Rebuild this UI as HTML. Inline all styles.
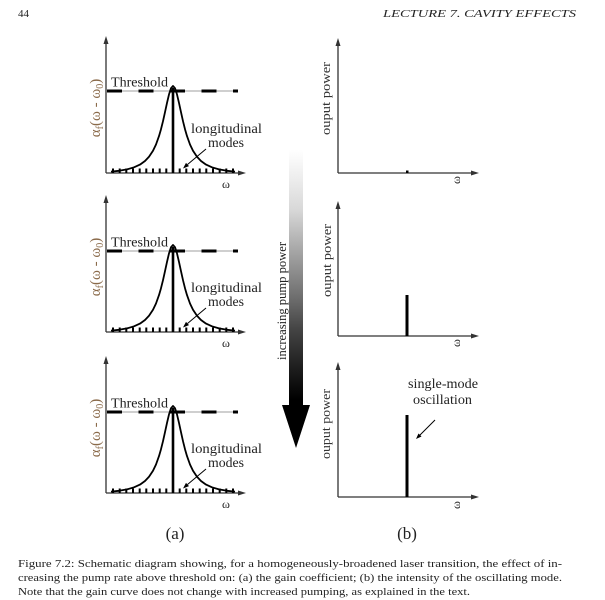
<!DOCTYPE html>
<html>
<head>
<meta charset="utf-8">
<style>
html,body{margin:0;padding:0;background:#fff;}
svg{display:block;font-family:"Liberation Serif",serif;}
</style>
</head>
<body>
<svg width="605" height="600" viewBox="0 0 605 600" xmlns="http://www.w3.org/2000/svg">
<defs>
<linearGradient id="pg" x1="0" y1="150" x2="0" y2="410" gradientUnits="userSpaceOnUse">
<stop offset="0" stop-color="#ffffff"/>
<stop offset="0.115" stop-color="#ececec"/>
<stop offset="0.23" stop-color="#d8d8d8"/>
<stop offset="0.42" stop-color="#9c9c9c"/>
<stop offset="0.58" stop-color="#6a6a6a"/>
<stop offset="0.69" stop-color="#444444"/>
<stop offset="0.81" stop-color="#252525"/>
<stop offset="0.96" stop-color="#000000"/>
</linearGradient>
</defs>
<rect width="605" height="600" fill="#fff"/>

<!-- header -->
<text x="18" y="17" font-size="11" fill="#222">44</text>
<text x="383" y="17" font-size="11" font-style="italic" fill="#222" textLength="193" lengthAdjust="spacingAndGlyphs">LECTURE 7.  CAVITY EFFECTS</text>

<!-- LEFT PANELS -->
<g>
<line x1="106" y1="173" x2="106" y2="42" stroke="#333" stroke-width="1.3"/>
<polygon points="106,36 103.5,44 108.5,44" fill="#333"/>
<line x1="106" y1="173" x2="240" y2="173" stroke="#333" stroke-width="1.3"/>
<polygon points="246,173 238,170.5 238,175.5" fill="#333"/>
<line x1="107" y1="91" x2="238" y2="91" stroke="#cfcfcf" stroke-width="2"/>
<line x1="107" y1="91" x2="238" y2="91" stroke="#000" stroke-width="3" stroke-dasharray="15 16.5"/>
<path d="M111,171.6 L119,170.8 L127,169.4 L134,167.3 L140,164.6 L145,161 L149,156.8 L153,150.8 L156,144.5 L159,136.1 L161,129.2 L163,121.2 L165,112.2 L167,102.9 L169,94.4 L171,88.2 L173,86 L175,88.2 L177,94.4 L179,102.9 L181,112.2 L183,121.2 L185,129.2 L187,136.1 L190,144.5 L193,150.8 L197,156.8 L201,161 L206,164.6 L212,167.3 L219,169.4 L227,170.8 L235,171.6" fill="none" stroke="#000" stroke-width="1.8" stroke-linejoin="round"/>
<line x1="173" y1="88" x2="173" y2="173" stroke="#000" stroke-width="2.6"/>
<path d="M166.3,168.5v4.5M159.7,168.5v4.5M153,168.5v4.5M146.3,168.5v4.5M139.7,168.5v4.5M133,168.5v4.5M126.3,168.5v4.5M119.7,168.5v4.5M113,168.5v4.5M179.7,168.5v4.5M186.3,168.5v4.5M193,168.5v4.5M199.7,168.5v4.5M206.3,168.5v4.5M213,168.5v4.5M219.7,168.5v4.5M226.3,168.5v4.5M233,168.5v4.5" stroke="#000" stroke-width="2"/>
<text x="111" y="86.5" font-size="14" fill="#222" textLength="57" lengthAdjust="spacingAndGlyphs">Threshold</text>
<text x="191" y="133" font-size="14" fill="#222" textLength="71" lengthAdjust="spacingAndGlyphs">longitudinal</text>
<text x="208" y="147" font-size="14" fill="#222" textLength="36" lengthAdjust="spacingAndGlyphs">modes</text>
<line x1="206" y1="149" x2="187.5" y2="164.5" stroke="#000" stroke-width="1"/>
<polygon points="183,168.5 189,166.1 186,162.9" fill="#000"/>
<text x="226" y="188" font-size="12" text-anchor="middle" fill="#222">ω</text>
<text transform="translate(100,108) rotate(-90)" text-anchor="middle" font-size="15" fill="#8a6a4a">α<tspan font-size="10" dy="3">f</tspan><tspan dy="-3">(ω - ω</tspan><tspan font-size="10" dy="3">0</tspan><tspan dy="-3">)</tspan></text>
</g>

<g transform="translate(0,159)">
<line x1="106" y1="173" x2="106" y2="42" stroke="#333" stroke-width="1.3"/>
<polygon points="106,36 103.5,44 108.5,44" fill="#333"/>
<line x1="106" y1="173" x2="240" y2="173" stroke="#333" stroke-width="1.3"/>
<polygon points="246,173 238,170.5 238,175.5" fill="#333"/>
<line x1="107" y1="92" x2="238" y2="92" stroke="#cfcfcf" stroke-width="2"/>
<line x1="107" y1="92" x2="238" y2="92" stroke="#000" stroke-width="3" stroke-dasharray="15 16.5"/>
<path d="M111,171.6 L119,170.8 L127,169.4 L134,167.3 L140,164.6 L145,161 L149,156.8 L153,150.8 L156,144.5 L159,136.1 L161,129.2 L163,121.2 L165,112.2 L167,102.9 L169,94.4 L171,88.2 L173,86 L175,88.2 L177,94.4 L179,102.9 L181,112.2 L183,121.2 L185,129.2 L187,136.1 L190,144.5 L193,150.8 L197,156.8 L201,161 L206,164.6 L212,167.3 L219,169.4 L227,170.8 L235,171.6" fill="none" stroke="#000" stroke-width="1.8" stroke-linejoin="round"/>
<line x1="173" y1="88" x2="173" y2="173" stroke="#000" stroke-width="2.6"/>
<path d="M166.3,168.5v4.5M159.7,168.5v4.5M153,168.5v4.5M146.3,168.5v4.5M139.7,168.5v4.5M133,168.5v4.5M126.3,168.5v4.5M119.7,168.5v4.5M113,168.5v4.5M179.7,168.5v4.5M186.3,168.5v4.5M193,168.5v4.5M199.7,168.5v4.5M206.3,168.5v4.5M213,168.5v4.5M219.7,168.5v4.5M226.3,168.5v4.5M233,168.5v4.5" stroke="#000" stroke-width="2"/>
<text x="111" y="87.5" font-size="14" fill="#222" textLength="57" lengthAdjust="spacingAndGlyphs">Threshold</text>
<text x="191" y="133" font-size="14" fill="#222" textLength="71" lengthAdjust="spacingAndGlyphs">longitudinal</text>
<text x="208" y="147" font-size="14" fill="#222" textLength="36" lengthAdjust="spacingAndGlyphs">modes</text>
<line x1="206" y1="149" x2="187.5" y2="164.5" stroke="#000" stroke-width="1"/>
<polygon points="183,168.5 189,166.1 186,162.9" fill="#000"/>
<text x="226" y="188" font-size="12" text-anchor="middle" fill="#222">ω</text>
<text transform="translate(100,108) rotate(-90)" text-anchor="middle" font-size="15" fill="#8a6a4a">α<tspan font-size="10" dy="3">f</tspan><tspan dy="-3">(ω - ω</tspan><tspan font-size="10" dy="3">0</tspan><tspan dy="-3">)</tspan></text>
</g>

<g transform="translate(0,320)">
<line x1="106" y1="173" x2="106" y2="42" stroke="#333" stroke-width="1.3"/>
<polygon points="106,36 103.5,44 108.5,44" fill="#333"/>
<line x1="106" y1="173" x2="240" y2="173" stroke="#333" stroke-width="1.3"/>
<polygon points="246,173 238,170.5 238,175.5" fill="#333"/>
<line x1="107" y1="92" x2="238" y2="92" stroke="#cfcfcf" stroke-width="2"/>
<line x1="107" y1="92" x2="238" y2="92" stroke="#000" stroke-width="3" stroke-dasharray="15 16.5"/>
<path d="M111,171.6 L119,170.8 L127,169.4 L134,167.3 L140,164.6 L145,161 L149,156.8 L153,150.8 L156,144.5 L159,136.1 L161,129.2 L163,121.2 L165,112.2 L167,102.9 L169,94.4 L171,88.2 L173,86 L175,88.2 L177,94.4 L179,102.9 L181,112.2 L183,121.2 L185,129.2 L187,136.1 L190,144.5 L193,150.8 L197,156.8 L201,161 L206,164.6 L212,167.3 L219,169.4 L227,170.8 L235,171.6" fill="none" stroke="#000" stroke-width="1.8" stroke-linejoin="round"/>
<line x1="173" y1="88" x2="173" y2="173" stroke="#000" stroke-width="2.6"/>
<path d="M166.3,168.5v4.5M159.7,168.5v4.5M153,168.5v4.5M146.3,168.5v4.5M139.7,168.5v4.5M133,168.5v4.5M126.3,168.5v4.5M119.7,168.5v4.5M113,168.5v4.5M179.7,168.5v4.5M186.3,168.5v4.5M193,168.5v4.5M199.7,168.5v4.5M206.3,168.5v4.5M213,168.5v4.5M219.7,168.5v4.5M226.3,168.5v4.5M233,168.5v4.5" stroke="#000" stroke-width="2"/>
<text x="111" y="87.5" font-size="14" fill="#222" textLength="57" lengthAdjust="spacingAndGlyphs">Threshold</text>
<text x="191" y="133" font-size="14" fill="#222" textLength="71" lengthAdjust="spacingAndGlyphs">longitudinal</text>
<text x="208" y="147" font-size="14" fill="#222" textLength="36" lengthAdjust="spacingAndGlyphs">modes</text>
<line x1="206" y1="149" x2="187.5" y2="164.5" stroke="#000" stroke-width="1"/>
<polygon points="183,168.5 189,166.1 186,162.9" fill="#000"/>
<text x="226" y="188" font-size="12" text-anchor="middle" fill="#222">ω</text>
<text transform="translate(100,108) rotate(-90)" text-anchor="middle" font-size="15" fill="#8a6a4a">α<tspan font-size="10" dy="3">f</tspan><tspan dy="-3">(ω - ω</tspan><tspan font-size="10" dy="3">0</tspan><tspan dy="-3">)</tspan></text>
</g>

<!-- pump arrow -->
<rect x="289" y="150" width="14" height="256" fill="url(#pg)"/>
<polygon points="282,405 310,405 296,448" fill="#000"/>
<text transform="translate(286,301) rotate(-90)" text-anchor="middle" font-size="12.5" fill="#222" textLength="118" lengthAdjust="spacingAndGlyphs">increasing pump power</text>

<!-- RIGHT PANELS -->
<g>
<line x1="338" y1="173" x2="338" y2="44" stroke="#333" stroke-width="1.3"/>
<polygon points="338,38 335.5,46 340.5,46" fill="#333"/>
<line x1="338" y1="173" x2="473" y2="173" stroke="#333" stroke-width="1.3"/>
<polygon points="479,173 471,170.5 471,175.5" fill="#333"/>
<rect x="406" y="170.5" width="2.5" height="2.5" fill="#000"/>
<text transform="translate(330,98.5) rotate(-90)" text-anchor="middle" font-size="13" fill="#333" textLength="73" lengthAdjust="spacingAndGlyphs">ouput power</text>
<text transform="translate(460,180) rotate(-90)" text-anchor="middle" font-size="12" fill="#222">ω</text>
</g>

<g transform="translate(0,163)">
<line x1="338" y1="173" x2="338" y2="44" stroke="#333" stroke-width="1.3"/>
<polygon points="338,38 335.5,46 340.5,46" fill="#333"/>
<line x1="338" y1="173" x2="473" y2="173" stroke="#333" stroke-width="1.3"/>
<polygon points="479,173 471,170.5 471,175.5" fill="#333"/>
<line x1="407" y1="132" x2="407" y2="173" stroke="#000" stroke-width="3"/>
<text transform="translate(331,97.5) rotate(-90)" text-anchor="middle" font-size="13" fill="#333" textLength="73" lengthAdjust="spacingAndGlyphs">ouput power</text>
<text transform="translate(460,180) rotate(-90)" text-anchor="middle" font-size="12" fill="#222">ω</text>
</g>

<g transform="translate(0,324)">
<line x1="338" y1="173" x2="338" y2="44" stroke="#333" stroke-width="1.3"/>
<polygon points="338,38 335.5,46 340.5,46" fill="#333"/>
<line x1="338" y1="173" x2="473" y2="173" stroke="#333" stroke-width="1.3"/>
<polygon points="479,173 471,170.5 471,175.5" fill="#333"/>
<line x1="407" y1="91" x2="407" y2="173" stroke="#000" stroke-width="3"/>
<text transform="translate(330,100) rotate(-90)" text-anchor="middle" font-size="13" fill="#333" textLength="70" lengthAdjust="spacingAndGlyphs">ouput power</text>
<text transform="translate(460,181) rotate(-90)" text-anchor="middle" font-size="12" fill="#222">ω</text>
</g>

<text x="408" y="388" font-size="14" fill="#222" textLength="70" lengthAdjust="spacingAndGlyphs">single-mode</text>
<text x="413" y="404" font-size="14" fill="#222" textLength="59" lengthAdjust="spacingAndGlyphs">oscillation</text>
<line x1="435" y1="420" x2="419.5" y2="435.5" stroke="#000" stroke-width="1"/>
<polygon points="416,439 421.5,436.5 418.5,433.5" fill="#000"/>

<text x="175" y="539" font-size="17" text-anchor="middle" fill="#222">(a)</text>
<text x="407" y="539" font-size="17" text-anchor="middle" fill="#222">(b)</text>

<!-- caption -->
<text x="18" y="567" font-size="11" fill="#222" textLength="544" lengthAdjust="spacingAndGlyphs">Figure 7.2: Schematic diagram showing, for a homogeneously-broadened laser transition, the effect of in-</text>
<text x="18" y="581" font-size="11" fill="#222" textLength="544" lengthAdjust="spacingAndGlyphs">creasing the pump rate above threshold on: (a) the gain coefficient; (b) the intensity of the oscillating mode.</text>
<text x="18" y="595" font-size="11" fill="#222" textLength="452" lengthAdjust="spacingAndGlyphs">Note that the gain curve does not change with increased pumping, as explained in the text.</text>
</svg>
</body>
</html>
